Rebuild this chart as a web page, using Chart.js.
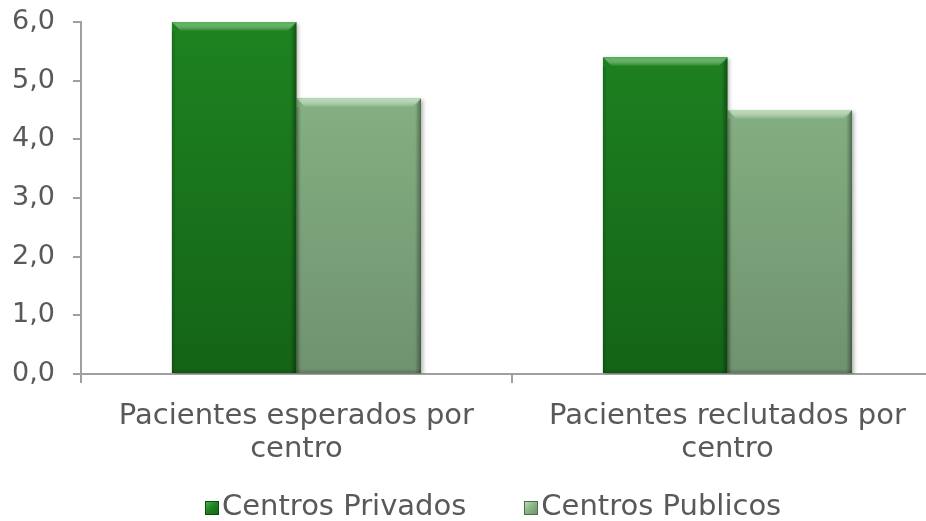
<!DOCTYPE html>
<html>
<head>
<meta charset="utf-8">
<script src="https://cdn.jsdelivr.net/npm/chart.js@4.4.1/dist/chart.umd.min.js"></script>
<style>
  html, body { margin: 0; padding: 0; background: #ffffff; overflow: hidden; }
  #wrap { width: 960px; height: 521px; position: relative; }
  #legend { position: absolute; left: 205px; top: 489px; display: flex; align-items: center;
            font-family: 'DejaVu Sans', Verdana, sans-serif; font-size: 29px; line-height: 33px; color: #595959; white-space: nowrap; }
  .item { display: flex; align-items: baseline; }
  .box { display: inline-block; width: 14px; height: 14px; margin-right: 3px; box-sizing: border-box; }
</style>
</head>
<body>
<div id="wrap"><canvas id="c"></canvas><div id="legend"></div></div>
<script>
const categories = [["Pacientes esperados por", "centro"], ["Pacientes reclutados por", "centro"]];
const seriesNames = ["Centros Privados", "Centros Publicos"];
const privados = [6.0, 5.4];
const publicos = [4.7, 4.5];

const FONT = "'DejaVu Sans', Verdana, sans-serif";
const TEXT = "#595959";
const AXIS = "#a0a0a0";

const palettes = [
  { top: "#1e8321", bottom: "#146416", hi: "#4db04d", edge: "#0d4a0f" },
  { top: "#8ab887", bottom: "#6f926f", hi: "#b8dcb3", edge: "#4d6d4d" }
];

function gradFill(idx) {
  return (ctx) => {
    const chart = ctx.chart;
    const area = chart.chartArea;
    if (!area) return palettes[idx].top;
    const g = chart.ctx.createLinearGradient(0, area.top, 0, area.bottom);
    g.addColorStop(0, palettes[idx].top);
    g.addColorStop(1, palettes[idx].bottom);
    return g;
  };
}

const bevelPlugin = {
  id: "bevel",
  beforeDatasetDraw(chart) {
    const c = chart.ctx;
    c.save();
    c.shadowColor = "rgba(0,0,0,0.3)";
    c.shadowBlur = 4;
    c.shadowOffsetX = 2;
    c.shadowOffsetY = 2;
  },
  afterDatasetDraw(chart, args) {
    const c = chart.ctx;
    c.restore();
    const pal = palettes[args.index];
    args.meta.data.forEach((bar) => {
      const p = bar.getProps(["x", "y", "base", "width"], true);
      const l = p.x - p.width / 2, r = p.x + p.width / 2, t = p.y, b = p.base;
      const s = 9, e = 4;
      c.save();
      let g = c.createLinearGradient(0, t, 0, t + s);
      g.addColorStop(0, pal.hi);
      g.addColorStop(1, "rgba(255,255,255,0)");
      c.fillStyle = g;
      c.beginPath();
      c.moveTo(l, t); c.lineTo(r, t); c.lineTo(r - s, t + s); c.lineTo(l + s, t + s); c.closePath();
      c.fill();
      g = c.createLinearGradient(l, 0, l + e, 0);
      g.addColorStop(0, "rgba(0,0,0,0.18)");
      g.addColorStop(1, "rgba(0,0,0,0)");
      c.fillStyle = g;
      c.beginPath();
      c.moveTo(l, t + s); c.lineTo(l + e, t + s); c.lineTo(l + e, b); c.lineTo(l, b); c.closePath();
      c.fill();
      g = c.createLinearGradient(r - e - 2, 0, r, 0);
      g.addColorStop(0, "rgba(0,0,0,0)");
      g.addColorStop(1, "rgba(0,0,0,0.38)");
      c.fillStyle = g;
      c.beginPath();
      c.moveTo(r, t); c.lineTo(r, b); c.lineTo(r - e - 2, b); c.lineTo(r - e - 2, t + s); c.closePath();
      c.fill();
      g = c.createLinearGradient(0, b - 4, 0, b);
      g.addColorStop(0, "rgba(0,0,0,0)");
      g.addColorStop(1, "rgba(0,0,0,0.18)");
      c.fillStyle = g;
      c.fillRect(l, b - 4, r - l, 4);
      c.restore();
    });
  }
};

// HTML legend built from the series names and palette
const legendEl = document.getElementById("legend");
seriesNames.forEach((name, i) => {
  const item = document.createElement("span");
  item.className = "item";
  if (i > 0) item.style.marginLeft = "58px";
  const box = document.createElement("span");
  box.className = "box";
  box.style.background = "linear-gradient(135deg, " + palettes[i].hi + ", " + palettes[i].top + " 45%, " + palettes[i].bottom + ")";
  box.style.border = "1px solid " + palettes[i].edge;
  const txt = document.createElement("span");
  txt.textContent = name;
  item.appendChild(box);
  item.appendChild(txt);
  legendEl.appendChild(item);
});

Chart.defaults.font.family = FONT;
Chart.defaults.color = TEXT;

new Chart(document.getElementById("c"), {
  type: "bar",
  data: {
    labels: categories,
    datasets: [
      { label: seriesNames[0], data: privados, backgroundColor: gradFill(0), borderWidth: 0 },
      { label: seriesNames[1], data: publicos, backgroundColor: gradFill(1), borderWidth: 0 }
    ]
  },
  options: {
    responsive: true,
    maintainAspectRatio: false,
    animation: false,
    layout: { padding: { top: 22, right: 17, left: 12, bottom: 55 } },
    datasets: { bar: { categoryPercentage: 0.578, barPercentage: 1.0 } },
    plugins: {
      tooltip: { enabled: false },
      legend: { display: false }
    },
    scales: {
      x: {
        offset: true,
        afterFit(scale) { scale.paddingLeft = 0; scale.paddingRight = 0; scale.height -= scale.options.ticks.padding; },
        grid: { display: true, offset: true, drawOnChartArea: false, drawTicks: true, tickLength: 9, color: AXIS, lineWidth: 2 },
        border: { display: true, color: AXIS, width: 2 },
        ticks: { font: { size: 29, family: FONT, lineHeight: 1.14 }, color: TEXT, padding: 17, maxRotation: 0 }
      },
      y: {
        min: 0,
        max: 6,
        afterFit(scale) { scale.paddingTop = 0; scale.paddingBottom = 0; scale.width -= scale.options.ticks.padding; },
        grid: { display: true, drawOnChartArea: false, drawTicks: true, tickLength: 8, color: AXIS, lineWidth: 2 },
        border: { display: true, color: AXIS, width: 2 },
        ticks: {
          stepSize: 1,
          font: { size: 27, family: FONT },
          color: TEXT,
          padding: 18,
          callback: (v) => Number(v).toFixed(1).replace(".", ",")
        }
      }
    }
  },
  plugins: [bevelPlugin]
});
</script>
</body>
</html>
